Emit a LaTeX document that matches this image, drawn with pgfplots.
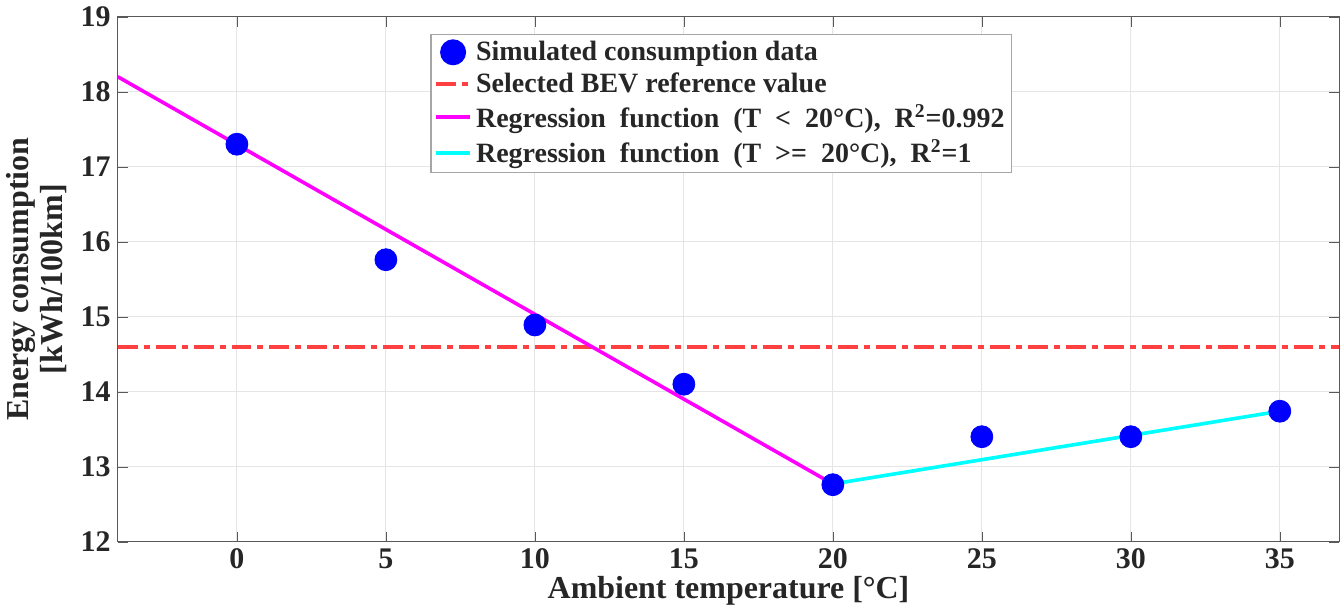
\documentclass[border=0pt]{standalone}
\usepackage{pgfplots}
\pgfplotsset{compat=1.18}
\usepackage{fontspec}
\setmainfont{Liberation Serif}
\definecolor{refred}{RGB}{255,64,64}
\definecolor{pmag}{RGB}{255,0,255}
\definecolor{pcyan}{RGB}{0,255,255}
\definecolor{pblue}{RGB}{0,0,255}
\begin{document}
\begin{tikzpicture}
\begin{axis}[
  scale only axis,
  width=612pt, height=263pt,
  xmin=-4, xmax=37, ymin=12, ymax=19,
  xtick={0,5,...,35}, ytick={12,13,...,19},
  tick align=inside,
  major tick length=5pt,
  grid=major,
  grid style={gray!20, line width=0.5pt},
  axis line style={gray!70!black, line width=0.6pt},
  tick style={gray!70!black},
  /pgf/number format/assume math mode=true,
  tick label style={font=\fontsize{15}{18}\selectfont\bfseries, text=black!85},
  xlabel={Ambient temperature [°C]},
  ylabel={Energy consumption\\{}[kWh/100km]},
  ylabel style={align=center, font=\fontsize{16}{17}\selectfont\bfseries, text=black!85},
  xlabel style={font=\fontsize{16}{18}\selectfont\bfseries, text=black!85, yshift=3pt},
  legend style={at={(0.256,0.968)}, anchor=north west,
    font=\fontsize{14}{16}\selectfont\bfseries, text=black!85,
    draw=gray!70, line width=0.6pt, inner sep=1.5pt,
    row sep=0.5pt, cells={anchor=west}},
  legend image post style={line width=2pt},
]
\addplot[only marks, mark=*, mark size=5.5pt, color=pblue, mark options={fill=pblue, draw=pblue}]
  coordinates {(0,17.30) (5,15.76) (10,14.89) (15,14.10) (20,12.76) (25,13.40) (30,13.40) (35,13.74)};
\addlegendentry{Simulated consumption data}
\addplot[refred, line width=1.8pt, dash pattern=on 10pt off 3pt on 3pt off 3pt]
  coordinates {(-4,14.60) (37,14.60)};
\addlegendentry{Selected BEV reference value}
\addplot[pmag, line width=1.8pt] coordinates {(-4,18.20) (20,12.77)};
\addlegendentry{Regression\ \ function\ \ (T\ \ <\ \ 20°C),\ \ R\textsuperscript{2}=0.992}
\addplot[pcyan, line width=1.8pt] coordinates {(20,12.77) (35,13.74)};
\addlegendentry{Regression\ \ function\ \ (T\ \ >=\ \ 20°C),\ \ R\textsuperscript{2}=1}
\end{axis}
\end{tikzpicture}
\end{document}
